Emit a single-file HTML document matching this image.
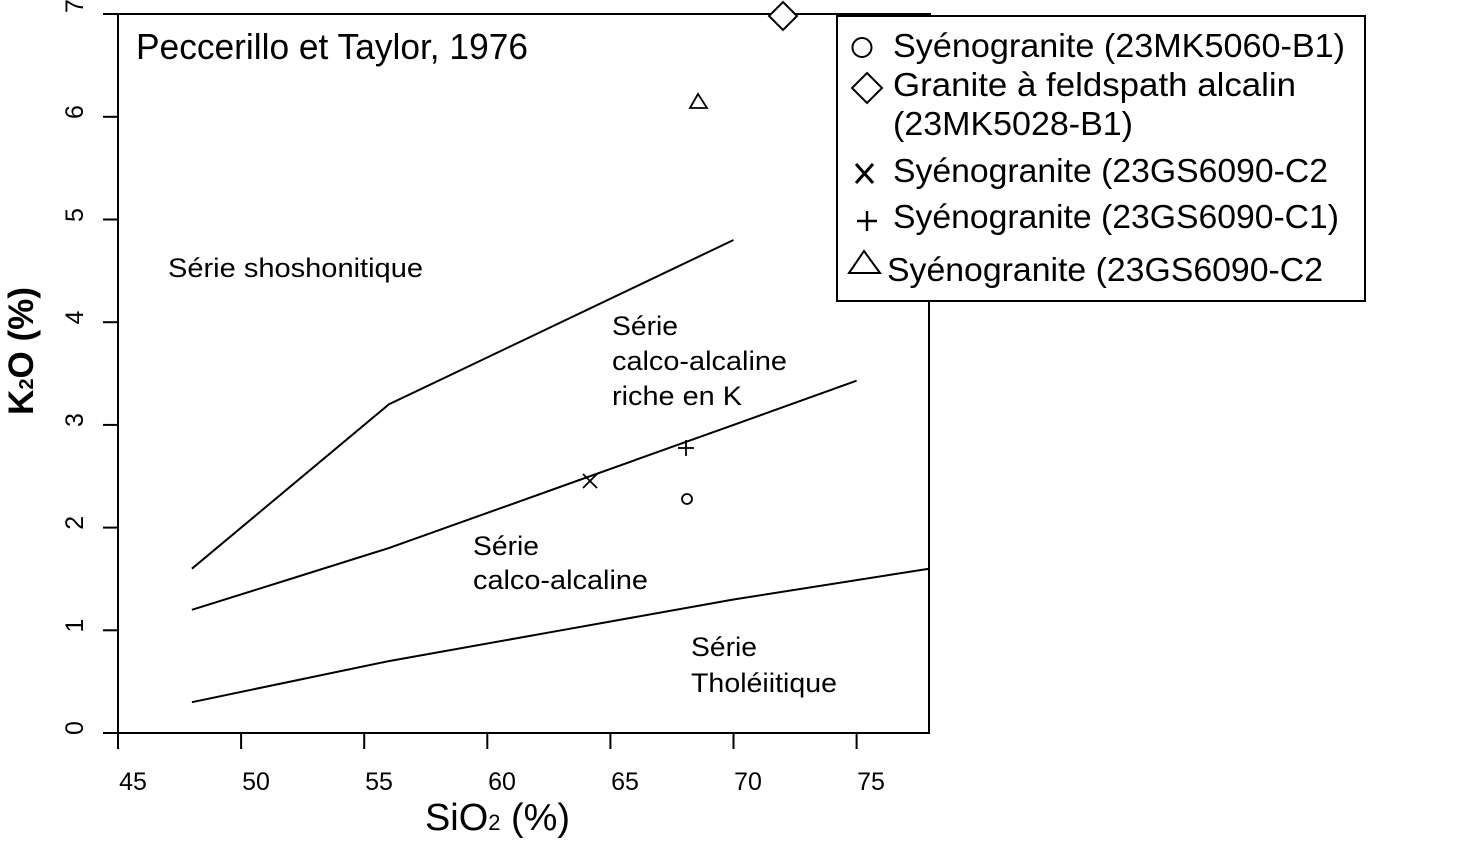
<!DOCTYPE html>
<html>
<head>
<meta charset="utf-8">
<style>
html,body{margin:0;padding:0;background:#fff;}
svg{display:block;}
text{font-family:"Liberation Sans",Arial,sans-serif;fill:#000;}
</style>
</head>
<body>
<svg width="1477" height="842" viewBox="0 0 1477 842" xmlns="http://www.w3.org/2000/svg">
<rect x="0" y="0" width="1477" height="842" fill="#fff"/>

<!-- axes frame -->
<g stroke="#000" stroke-width="2" fill="none" stroke-linecap="square">
  <line x1="104" y1="14" x2="930" y2="14"/>
  <line x1="118" y1="14" x2="118" y2="748"/>
  <line x1="104" y1="733" x2="929" y2="733"/>
  <line x1="929" y1="14" x2="929" y2="733"/>
  <line x1="104" y1="630.3" x2="118" y2="630.3"/>
  <line x1="104" y1="527.6" x2="118" y2="527.6"/>
  <line x1="104" y1="424.9" x2="118" y2="424.9"/>
  <line x1="104" y1="322.2" x2="118" y2="322.2"/>
  <line x1="104" y1="219.5" x2="118" y2="219.5"/>
  <line x1="104" y1="116.8" x2="118" y2="116.8"/>
  <line x1="241.1" y1="733" x2="241.1" y2="748"/>
  <line x1="364.2" y1="733" x2="364.2" y2="748"/>
  <line x1="487.3" y1="733" x2="487.3" y2="748"/>
  <line x1="610.4" y1="733" x2="610.4" y2="748"/>
  <line x1="733.5" y1="733" x2="733.5" y2="748"/>
  <line x1="856.6" y1="733" x2="856.6" y2="748"/>
</g>

<!-- x tick labels -->
<g font-size="25" text-anchor="middle">
  <text x="133" y="790">45</text>
  <text x="256" y="790">50</text>
  <text x="379" y="790">55</text>
  <text x="502" y="790">60</text>
  <text x="625" y="790">65</text>
  <text x="748" y="790">70</text>
  <text x="871" y="790">75</text>
</g>

<!-- y tick labels (rotated) -->
<g font-size="25" text-anchor="middle">
  <text transform="translate(83,728) rotate(-90)">0</text>
  <text transform="translate(83,625.5) rotate(-90)">1</text>
  <text transform="translate(83,522.8) rotate(-90)">2</text>
  <text transform="translate(83,420) rotate(-90)">3</text>
  <text transform="translate(83,317.5) rotate(-90)">4</text>
  <text transform="translate(83,215) rotate(-90)">5</text>
  <text transform="translate(83,112) rotate(-90)">6</text>
  <text transform="translate(83,6) rotate(-90)">7</text>
</g>

<!-- axis titles -->
<text transform="translate(33,351) rotate(-90)" font-size="35" font-weight="bold" text-anchor="middle" textLength="128" lengthAdjust="spacingAndGlyphs">K<tspan font-size="20">2</tspan>O (%)</text>
<text x="425" y="830" font-size="38" textLength="145" lengthAdjust="spacingAndGlyphs">SiO<tspan font-size="22">2</tspan> (%)</text>

<!-- boundary lines -->
<g stroke="#000" stroke-width="2" fill="none" stroke-linejoin="miter">
  <polyline points="191.9,568.7 388.8,404.4 733.5,240.0"/>
  <polyline points="191.9,609.8 290.3,579.0 388.8,548.1 561.2,486.5 733.5,424.9 856.6,380.7"/>
  <polyline points="191.9,702.2 290.3,681.6 388.8,661.1 561.2,630.3 733.5,599.5 929,568.7"/>
</g>

<!-- title -->
<text x="136" y="59" font-size="36" textLength="392" lengthAdjust="spacingAndGlyphs">Peccerillo et Taylor, 1976</text>

<!-- region labels -->
<g font-size="27">
  <text x="168" y="277" textLength="255" lengthAdjust="spacingAndGlyphs">Série shoshonitique</text>
  <text x="612" y="335" textLength="66" lengthAdjust="spacingAndGlyphs">Série</text>
  <text x="612" y="370" textLength="175" lengthAdjust="spacingAndGlyphs">calco-alcaline</text>
  <text x="612" y="405" textLength="130" lengthAdjust="spacingAndGlyphs">riche en K</text>
  <text x="473" y="555" textLength="66" lengthAdjust="spacingAndGlyphs">Série</text>
  <text x="473" y="589" textLength="175" lengthAdjust="spacingAndGlyphs">calco-alcaline</text>
  <text x="691" y="656" textLength="66" lengthAdjust="spacingAndGlyphs">Série</text>
  <text x="691" y="692" textLength="146" lengthAdjust="spacingAndGlyphs">Tholéiitique</text>
</g>

<!-- data points -->
<g stroke="#000" stroke-width="1.8" fill="none">
  <circle cx="687" cy="499" r="5"/>
  <line x1="583" y1="474" x2="597" y2="488"/>
  <line x1="583" y1="488" x2="597" y2="474"/>
  <line x1="678" y1="448" x2="694" y2="448"/>
  <line x1="686" y1="440" x2="686" y2="456"/>
  <polygon points="698,94 690,108 707,108"/>
  <polygon points="783,2 797,16 783,30 769,16" stroke-width="2" fill="#fff"/>
</g>

<!-- legend -->
<rect x="837" y="16" width="528" height="285" fill="#fff" stroke="#000" stroke-width="2"/>
<g stroke="#000" stroke-width="2" fill="none">
  <circle cx="862" cy="47.5" r="9.5"/>
  <polygon points="867,73 882,88 867,103 852,88"/>
  <line x1="856" y1="164" x2="873" y2="183" stroke-width="3"/>
  <line x1="856" y1="183" x2="873" y2="164" stroke-width="3"/>
  <line x1="857" y1="221" x2="877" y2="221" stroke-width="2.4"/>
  <line x1="867" y1="211" x2="867" y2="231" stroke-width="2.4"/>
  <polygon points="864,251 849,273 880,273"/>
</g>
<g font-size="33">
  <text x="893" y="57" textLength="452" lengthAdjust="spacingAndGlyphs">Syénogranite (23MK5060-B1)</text>
  <text x="893" y="96" textLength="403" lengthAdjust="spacingAndGlyphs">Granite à feldspath alcalin</text>
  <text x="893" y="135" textLength="240" lengthAdjust="spacingAndGlyphs">(23MK5028-B1)</text>
  <text x="893" y="182" textLength="435" lengthAdjust="spacingAndGlyphs">Syénogranite (23GS6090-C2</text>
  <text x="893" y="228" textLength="446" lengthAdjust="spacingAndGlyphs">Syénogranite (23GS6090-C1)</text>
  <text x="887" y="281" textLength="436" lengthAdjust="spacingAndGlyphs">Syénogranite (23GS6090-C2</text>
</g>
</svg>
</body>
</html>
